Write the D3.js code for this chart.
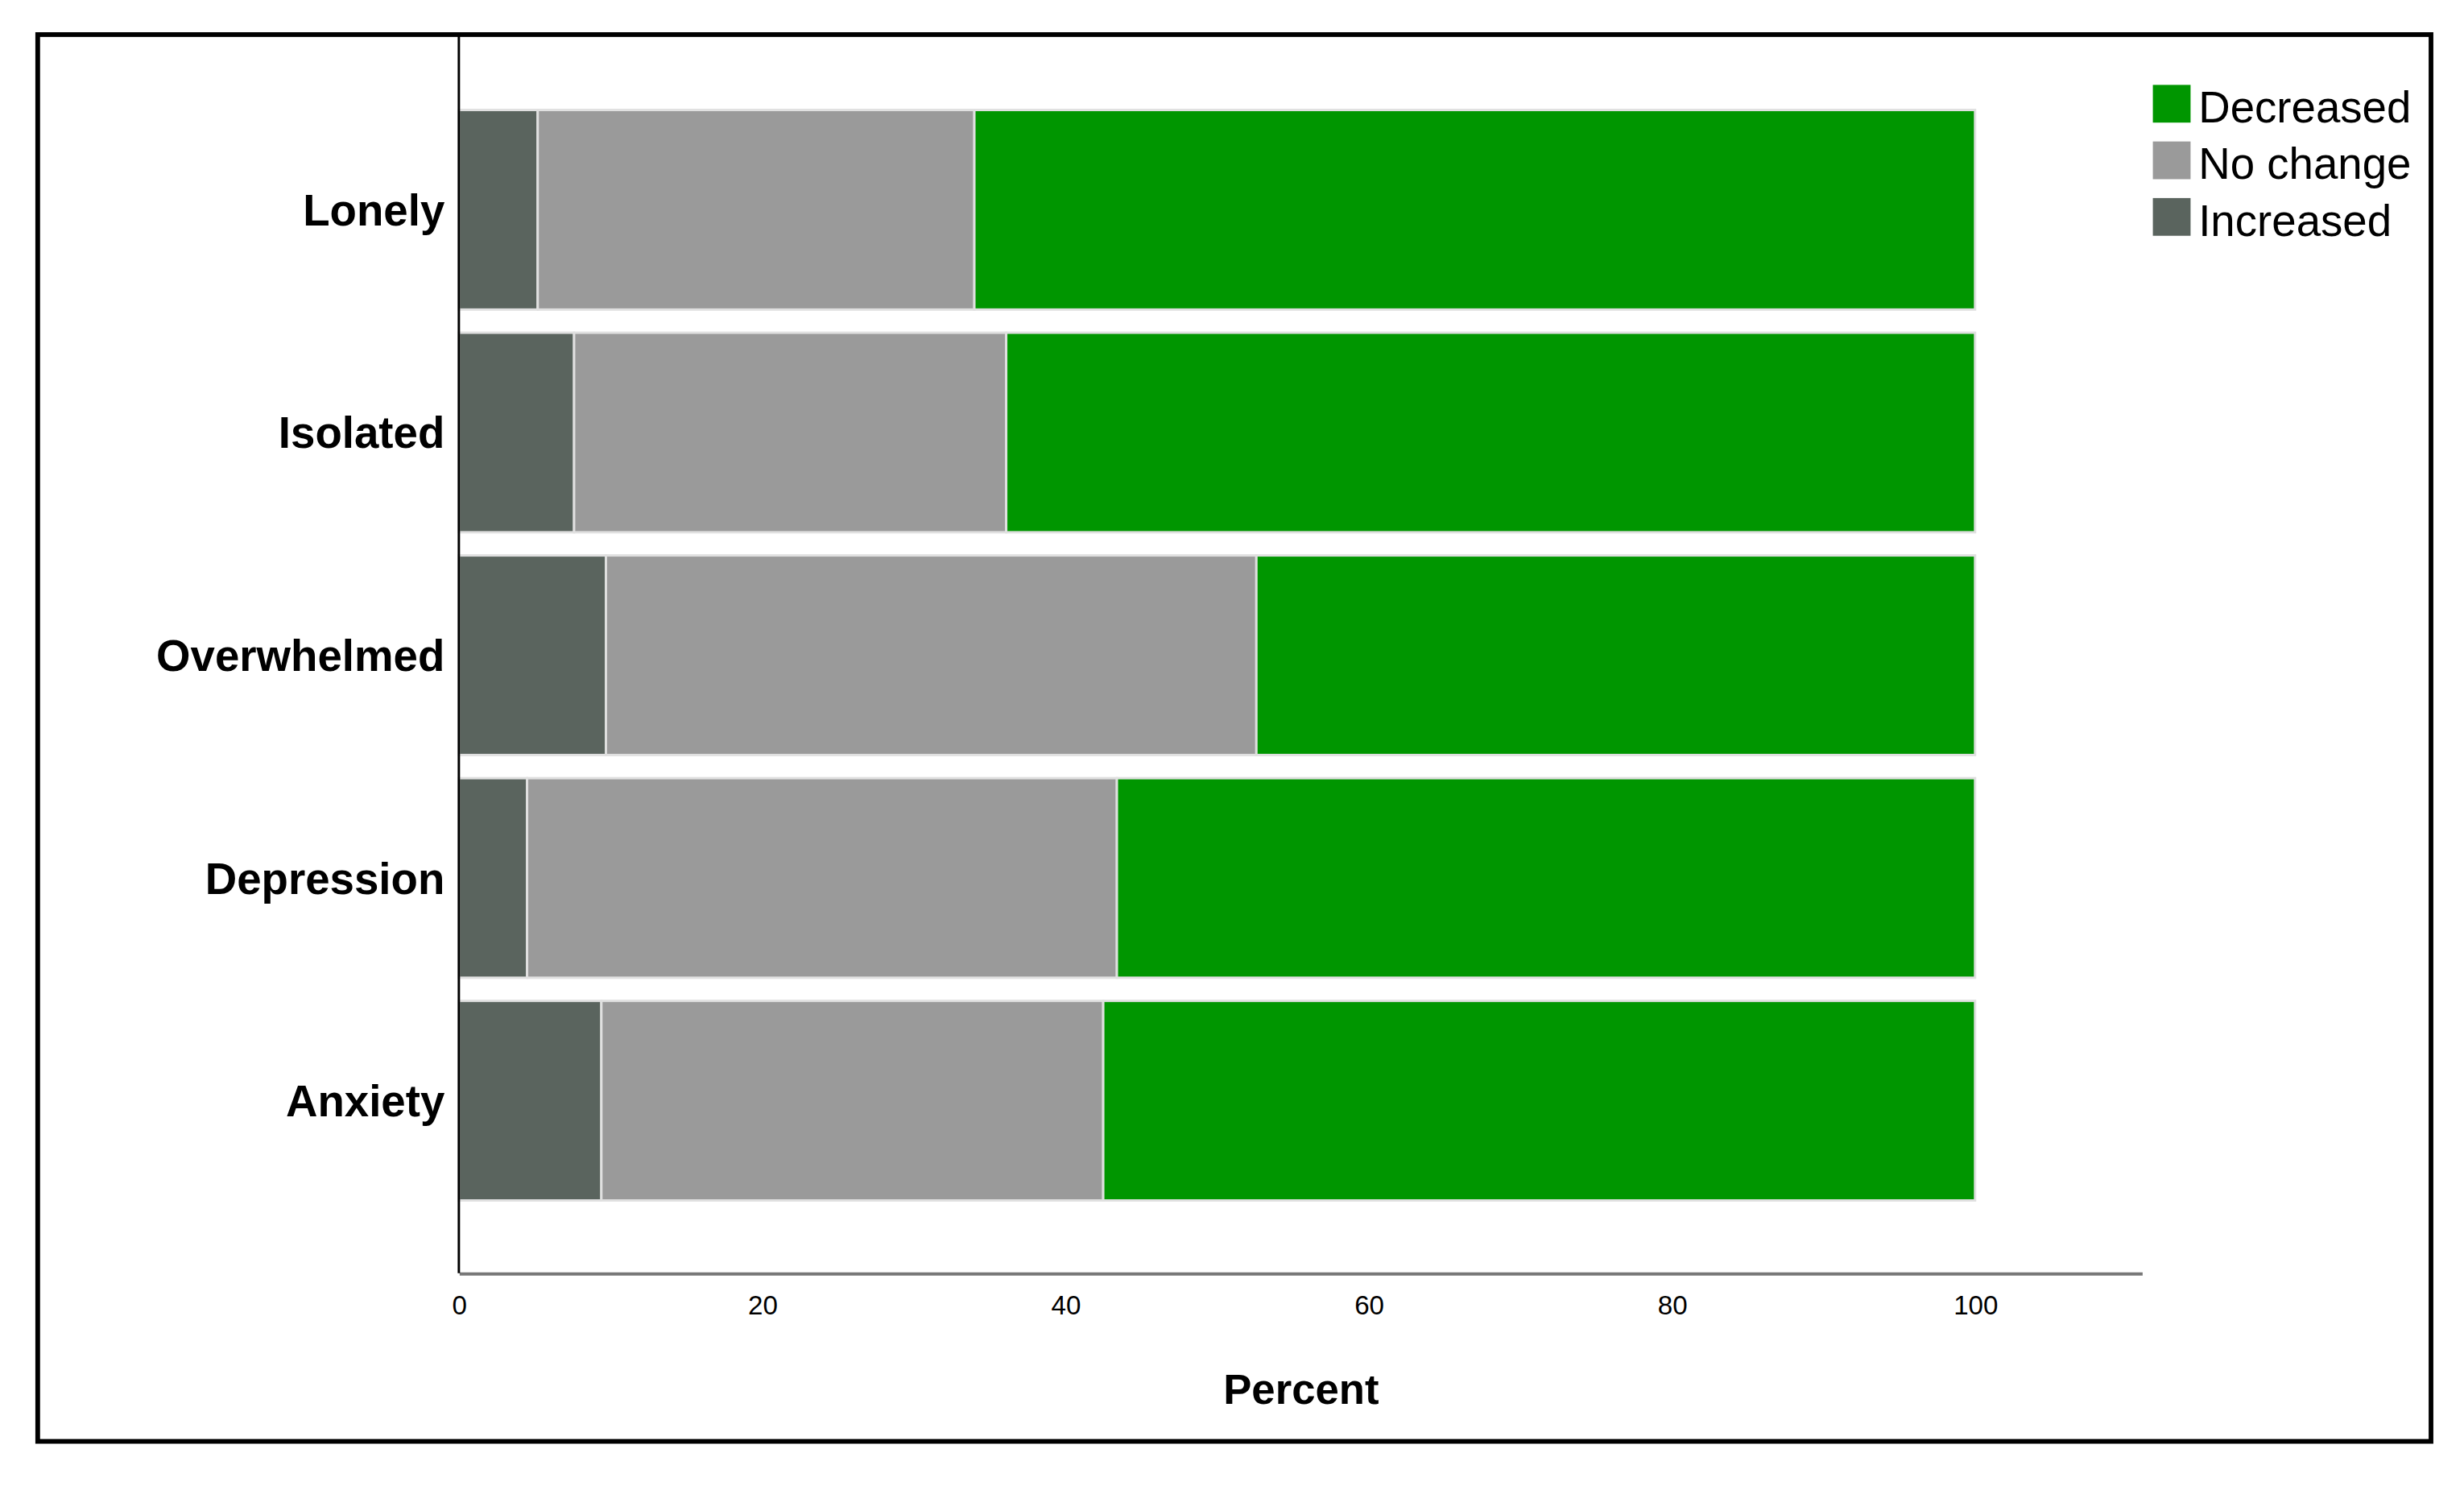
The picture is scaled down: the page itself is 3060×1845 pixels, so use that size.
<!DOCTYPE html>
<html>
<head>
<meta charset="utf-8">
<script src="https://cdn.jsdelivr.net/npm/d3@7"></script>
<style>
  body { margin: 0; background: #fff; }
  text { font-family: "Liberation Sans", Arial, sans-serif; }
</style>
</head>
<body>
<div id="chart"></div>
<script>
"use strict"

// data (percent)
let categories = ["Lonely", "Isolated", "Overwhelmed", "Depression", "Anxiety"];
let increased = [5.2, 7.6, 9.7, 4.5, 9.4];
let noChange = [28.8, 28.5, 42.9, 38.9, 33.1];
let decreased = [66.0, 63.9, 47.4, 56.6, 57.5];
let seriesNames = ["Increased", "No change", "Decreased"];
let seriesColors = ["#5a645e", "#9a9a9a", "#009600"];
let legendOrder = ["Decreased", "No change", "Increased"];
let xTicks = [0, 20, 40, 60, 80, 100];

let W = 1568, H = 945.4;
let svg = d3.select("#chart").append("svg")
            .attr("width", 3060)
            .attr("height", 1845)
            .attr("viewBox", "0 0 " + W + " " + H);

svg.append("rect").attr("width", W).attr("height", H).attr("fill", "#fff");
svg.append("rect")
   .attr("x", 24).attr("y", 22).attr("width", 1523).attr("height", 895)
   .attr("fill", "none").attr("stroke", "#000").attr("stroke-width", 3);

let x = d3.scaleLinear().domain([0, 111]).range([292, 1363]);
let y = d3.scaleBand().domain(categories)
          .range([62.6, 771.1])
          .paddingInner(0.104).paddingOuter(0.052);

let rows = categories.map(function(c, i) {
  return { cat: c, Increased: increased[i], "No change": noChange[i], Decreased: decreased[i] };
});
let stacked = d3.stack().keys(seriesNames)(rows);
let color = d3.scaleOrdinal().domain(seriesNames).range(seriesColors);

svg.append("g").selectAll("g")
   .data(stacked)
   .join("g")
   .attr("fill", d => color(d.key))
   .selectAll("rect")
   .data(d => d)
   .join("rect")
   .attr("x", d => x(d[0]))
   .attr("width", d => x(d[1]) - x(d[0]))
   .attr("y", d => y(d.data.cat))
   .attr("height", y.bandwidth())
   .attr("stroke", "#e0e0e0")
   .attr("stroke-width", 1.5);

// axes
let xAxis = svg.append("g")
   .attr("transform", "translate(0,810)")
   .call(d3.axisBottom(x).tickValues(xTicks).tickSize(0).tickPadding(14));
xAxis.select(".domain").attr("stroke", "#777").attr("stroke-width", 2);
xAxis.selectAll("text").attr("font-size", 17).attr("fill", "#000")
     .attr("font-family", "Liberation Sans, Arial, sans-serif");

svg.append("line")
   .attr("x1", 292).attr("x2", 292).attr("y1", 22).attr("y2", 810)
   .attr("stroke", "#000").attr("stroke-width", 1.5);

svg.append("g").selectAll("text")
   .data(categories)
   .join("text")
   .attr("x", 283)
   .attr("y", d => y(d) + y.bandwidth() / 2 + 10)
   .attr("text-anchor", "end")
   .attr("font-size", 28)
   .attr("font-weight", "bold")
   .text(d => d);

svg.append("text")
   .attr("x", 828).attr("y", 893)
   .attr("text-anchor", "middle")
   .attr("font-size", 27)
   .attr("font-weight", "bold")
   .text("Percent");

// legend
let legend = svg.append("g").selectAll("g")
   .data(legendOrder)
   .join("g")
   .attr("transform", (d, i) => "translate(1370," + (54 + i * 36) + ")");
legend.append("rect")
   .attr("width", 24).attr("height", 24)
   .attr("fill", d => color(d));
legend.append("text")
   .attr("x", 29).attr("y", 24)
   .attr("font-size", 28)
   .text(d => d);
</script>
</body>
</html>
